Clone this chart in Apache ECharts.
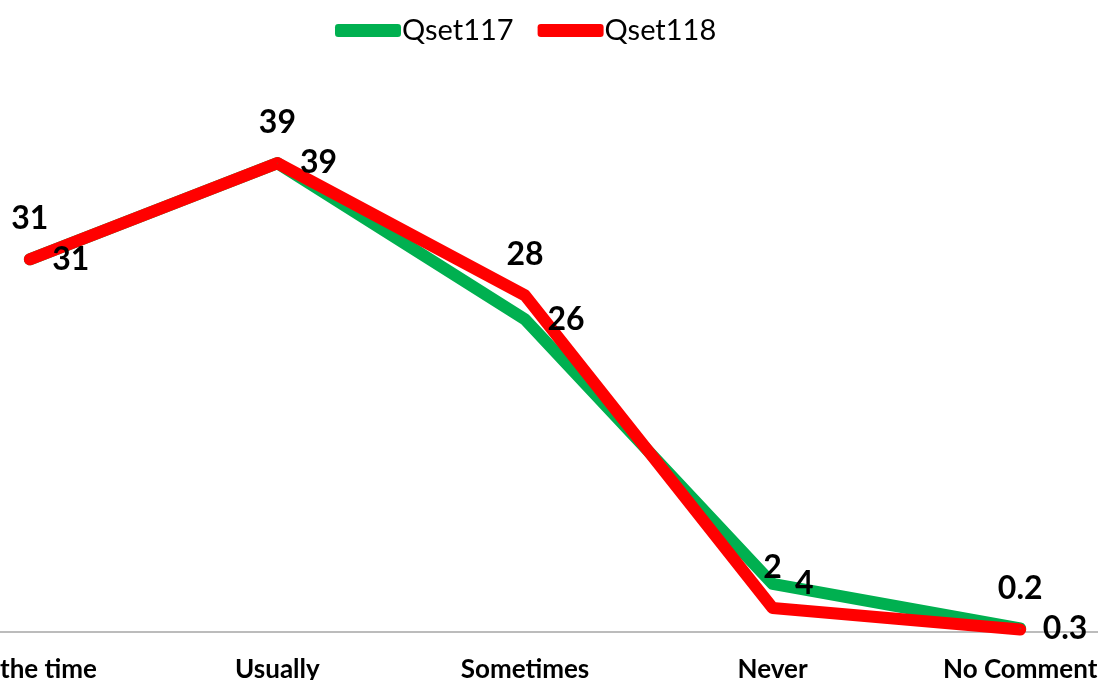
<!DOCTYPE html>
<html>
<head>
<meta charset="utf-8">
<script src="https://cdn.jsdelivr.net/npm/echarts@6/dist/echarts.min.js"></script>
<style>
  html, body { margin: 0; padding: 0; background: #fff; }
  #chart { width: 1098px; height: 680px; }
</style>
</head>
<body>
<div id="chart"></div>
<script>
// 分类与数据
const categories = ['All the time', 'Usually', 'Sometimes', 'Never', 'No Comment'];
const qset117 = [31, 39, 26, 4, 0.3];
const qset118 = [31, 39, 28, 2, 0.2];

const FONT = 'Lato, "Open Sans", sans-serif';

const myChart = echarts.init(document.getElementById('chart'));

const option = {
  animation: false,
  legend: {
    top: 11,
    left: 330,
    itemWidth: 66,
    itemHeight: 13,
    itemGap: 24,
    icon: 'roundRect',
    textStyle: {
      fontFamily: FONT,
      fontSize: 29,
      color: '#000',
      padding: [0, 0, 0, -4]
    },
    data: ['Qset117', 'Qset118']
  },
  grid: {
    left: -94,
    right: -46,
    top: 91,
    bottom: 48,
    outerBoundsMode: 'none'
  },
  xAxis: {
    type: 'category',
    data: categories,
    axisLine: { lineStyle: { color: '#a6a6a6', width: 1.5 } },
    axisTick: { show: false },
    axisLabel: {
      margin: 25,
      interval: 0,
      color: '#000',
      fontFamily: FONT,
      fontWeight: 'bold',
      fontSize: 26
    }
  },
  yAxis: {
    type: 'value',
    min: 0,
    max: 45,
    show: false,
    splitLine: { show: false }
  },
  series: [
    {
      name: 'Qset117',
      type: 'line',
      data: qset117,
      symbol: 'circle',
      symbolSize: 1,
      color: '#00b050',
      lineStyle: { width: 12, cap: 'round', join: 'round' },
      label: {
        show: true,
        position: 'right',
        distance: 22,
        color: '#000',
        fontFamily: FONT,
        fontWeight: 'bold',
        fontSize: 32
      }
    },
    {
      name: 'Qset118',
      type: 'line',
      data: qset118,
      symbol: 'circle',
      symbolSize: 1,
      color: '#ff0000',
      lineStyle: { width: 12, cap: 'round', join: 'round' },
      label: {
        show: true,
        position: 'top',
        distance: 24,
        color: '#000',
        fontFamily: FONT,
        fontWeight: 'bold',
        fontSize: 32
      }
    }
  ]
};

myChart.setOption(option);
</script>
</body>
</html>
